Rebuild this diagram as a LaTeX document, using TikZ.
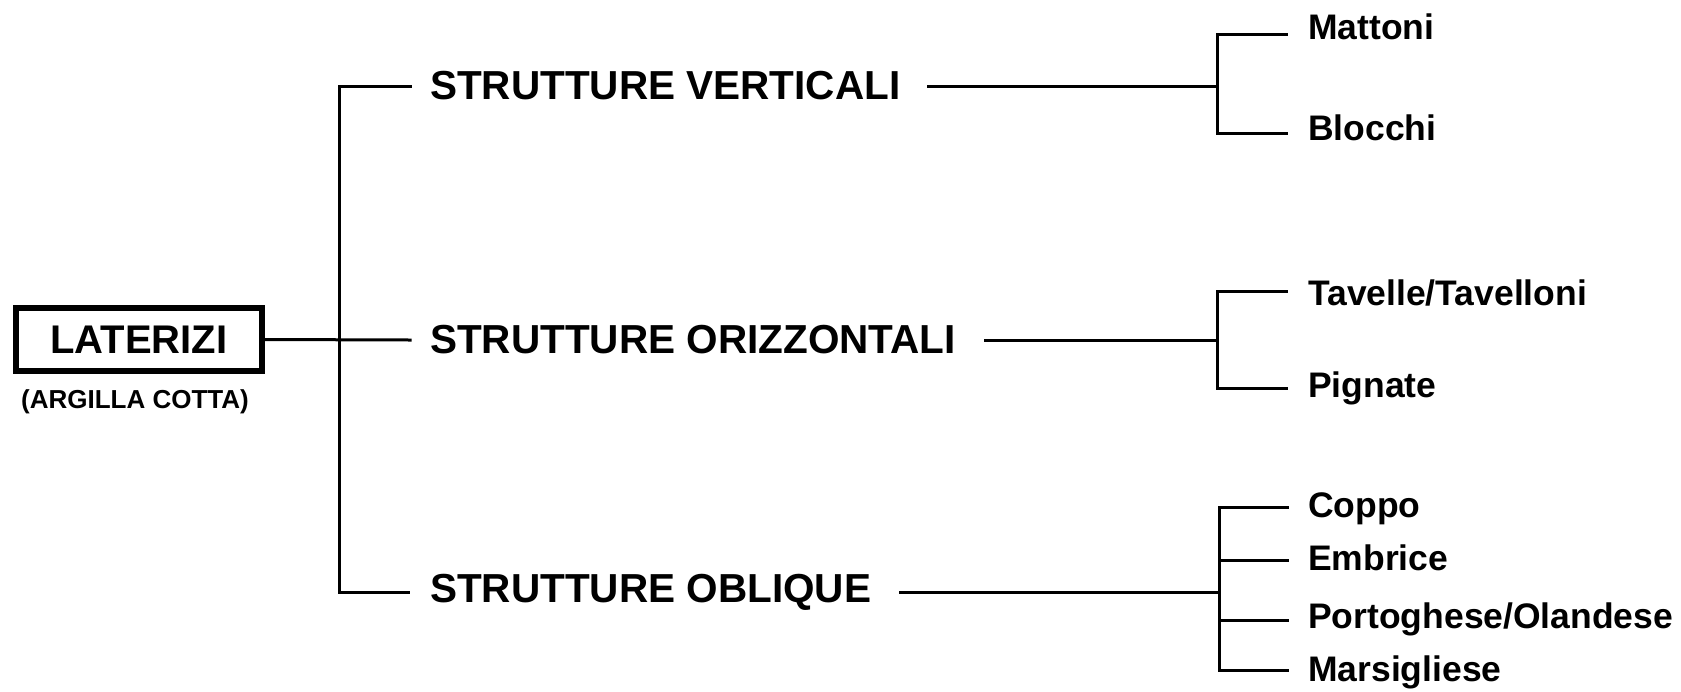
\documentclass[tikz,border=0pt]{standalone}
\usepackage{fontspec}
\setmainfont{Liberation Sans}
\begin{document}
\begin{tikzpicture}[x=1pt,y=-1pt,
  conn/.style={line width=3pt,line cap=rect},
  branch/.style={anchor=west,inner sep=0pt,font=\fontsize{40.5}{48}\selectfont\bfseries},
  leaf/.style={anchor=base west,inner sep=0pt,font=\fontsize{35.5}{42}\selectfont\bfseries},
  rootbox/.style={draw,line width=6pt,minimum width=246pt,minimum height=63pt,inner sep=0pt,font=\fontsize{40}{48}\selectfont\bfseries}]
\useasboundingbox (0,0) rectangle (1681,691);

% root
\node[rootbox] (lat) at (139,339.5) {LATERIZI};
\node[anchor=base,inner sep=0pt,font=\fontsize{26}{31}\selectfont\bfseries] (arg) at (135,408) {(ARGILLA COTTA)};

% branches
\node[branch] (sv) at (430,86) {STRUTTURE VERTICALI};
\node[branch] (so) at (430,340) {STRUTTURE ORIZZONTALI};
\node[branch] (sb) at (430,592) {STRUTTURE OBLIQUE};

% left bracket
\draw[conn] ([xshift=-20pt]sv.west) -| ([xshift=-91pt]sb.west) -- ([xshift=-22pt]sb.west);
\draw[conn] (lat.east) -- ([xshift=-20pt]so.west);

% right brackets
\coordinate (r1) at (1217,86);
\coordinate (r2) at (1217,340);
\coordinate (r3) at (1219,592);
\draw[conn] ([xshift=28pt]sv.east) -- (r1);
\draw[conn] ([xshift=29pt]so.east) -- (r2);
\draw[conn] ([xshift=29pt]sb.east) -- (r3);

% leaves
\node[leaf] (mat) at (1308,39) {Mattoni};
\node[leaf] (blo) at (1308,140) {Blocchi};
\node[leaf] (tav) at (1308,305) {Tavelle/Tavelloni};
\node[leaf] (pig) at (1308,397) {Pignate};
\node[leaf] (cop) at (1308,517) {Coppo};
\node[leaf] (emb) at (1308,570) {Embrice};
\node[leaf] (por) at (1308,628) {Portoghese/Olandese};
\node[leaf] (mar) at (1308,681) {Marsigliese};

\coordinate (e1a) at (1286,34);
\coordinate (e1b) at (1286,133);
\coordinate (e2a) at (1286,291);
\coordinate (e2b) at (1286,388);
\coordinate (e3a) at (1287,507);
\coordinate (e3b) at (1287,560);
\coordinate (e3c) at (1287,620);
\coordinate (e3d) at (1287,670);

\draw[conn] (e1a) -| (r1) |- (e1b);
\draw[conn] (e2a) -| (r2) |- (e2b);
\draw[conn] (e3a) -| (r3) |- (e3d);
\draw[conn] (r3 |- e3b) -- (e3b);
\draw[conn] (r3 |- e3c) -- (e3c);
\end{tikzpicture}
\end{document}
